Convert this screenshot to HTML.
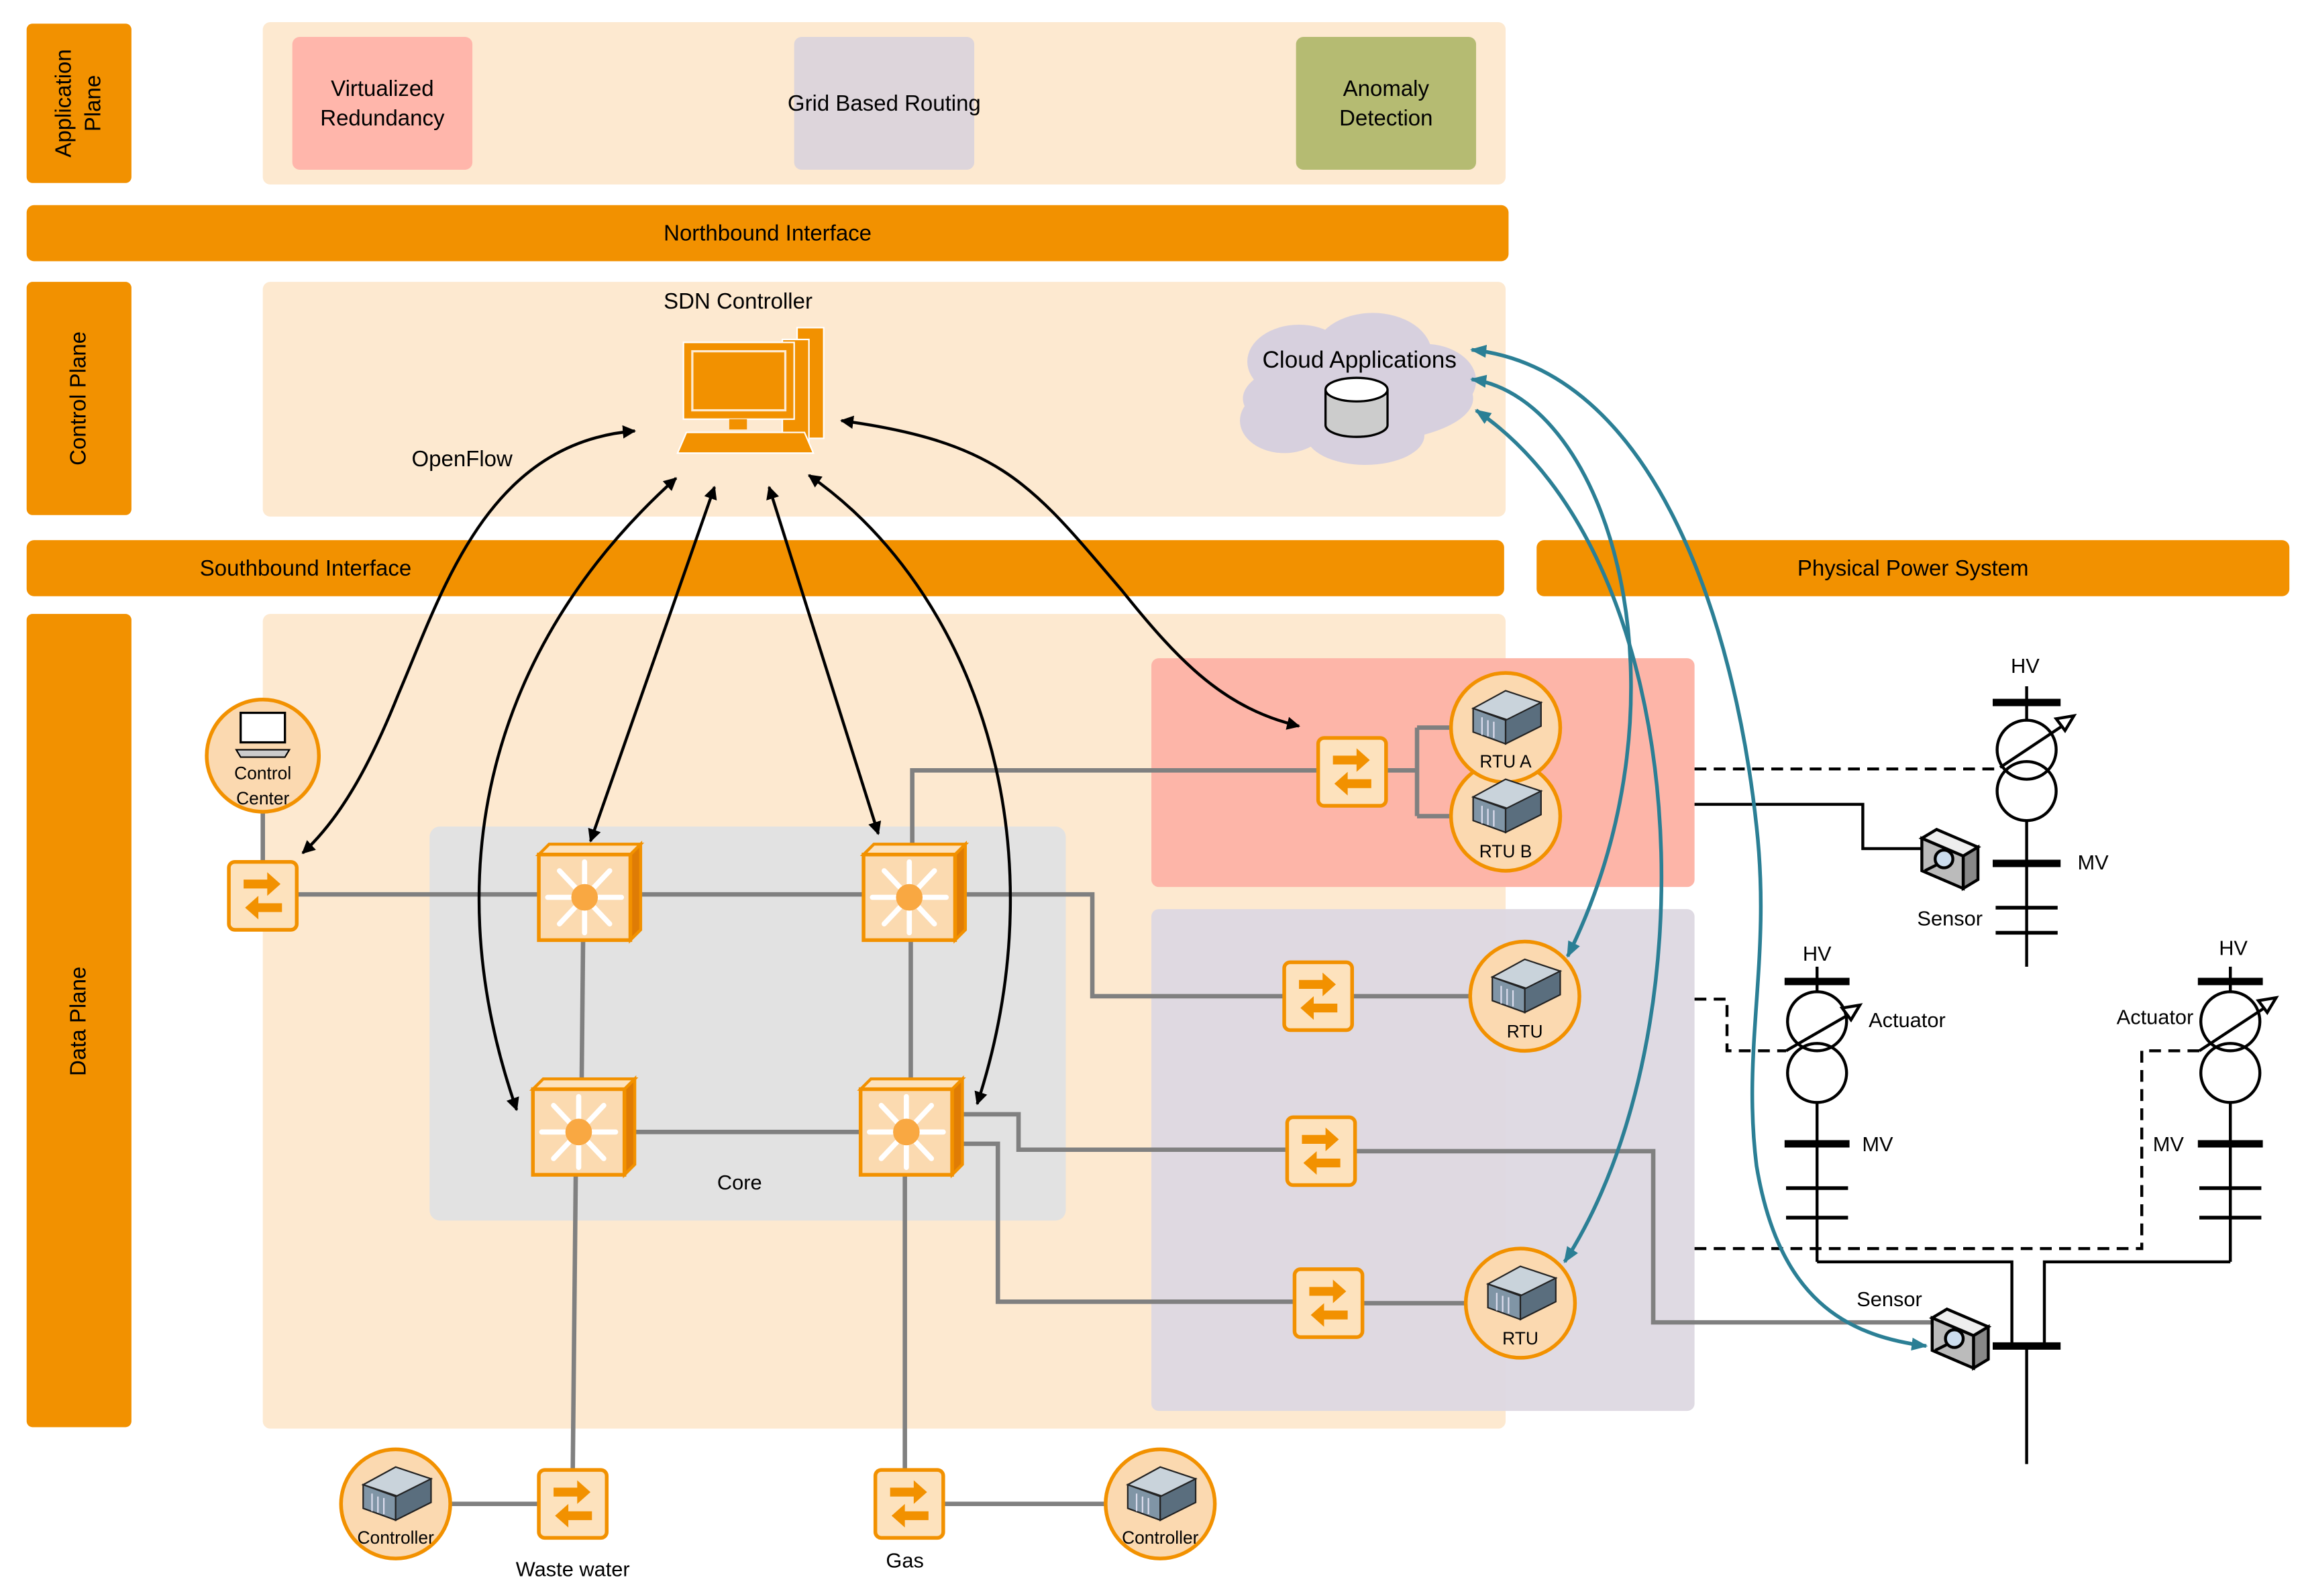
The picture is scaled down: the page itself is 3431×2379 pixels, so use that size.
<!DOCTYPE html>
<html><head><meta charset="utf-8"><style>
html,body{margin:0;padding:0;background:#fff}
svg{display:block}
text{font-family:"Liberation Sans",sans-serif;fill:#000}
</style></head><body>
<svg width="3431" height="2379" viewBox="0 0 1559.5 1081.4" xmlns="http://www.w3.org/2000/svg">
<defs>
<marker id="ab" viewBox="0 0 10 10" refX="9" refY="5" markerWidth="9" markerHeight="9" markerUnits="userSpaceOnUse" orient="auto-start-reverse"><path d="M0,0 L10,5 L0,10 z" fill="#000"/></marker>
<marker id="at" viewBox="0 0 10 10" refX="9" refY="5" markerWidth="11" markerHeight="11" markerUnits="userSpaceOnUse" orient="auto-start-reverse"><path d="M0,1 L10,5 L0,9 z" fill="#2b7f95"/></marker>
<g id="sw">
<rect x="-23" y="-23" width="46" height="46" rx="4" fill="#fde2bd" stroke="#f29100" stroke-width="2.5"/>
<path d="M-13,-11 h16 v-5 l9,8 l-9,8 v-5 h-16z" fill="#f29100"/>
<path d="M13,11 h-16 v5 l-9,-8 l9,-8 v5 h16z" fill="#f29100"/>
</g>
<g id="core">
<path d="M-32,-27 l7,-7 h62 l-7,7z" fill="#fde2bd" stroke="#f29100" stroke-width="2"/>
<path d="M30,-27 l7,-7 v58 l-7,7z" fill="#df7c05" stroke="#f29100" stroke-width="2"/>
<rect x="-32" y="-27" width="62" height="58" fill="#fbdab0" stroke="#f29100" stroke-width="2.5"/>
<g stroke="#fff" stroke-width="3.5" stroke-linecap="round">
<line x1="-1" y1="2" x2="-1" y2="-22"/><line x1="-1" y1="2" x2="-1" y2="26"/>
<line x1="-1" y1="2" x2="-26" y2="2"/><line x1="-1" y1="2" x2="24" y2="2"/>
<line x1="-1" y1="2" x2="-18" y2="-16"/><line x1="-1" y1="2" x2="16" y2="-16"/>
<line x1="-1" y1="2" x2="-18" y2="20"/><line x1="-1" y1="2" x2="16" y2="20"/>
</g>
<circle cx="-1" cy="2" r="9" fill="#f9a842"/>
</g>
<g id="srv">
<path d="M-20,-8 l22,-12 l24,8 l-22,12z" fill="#c9d3db" stroke="#222" stroke-width="1"/>
<path d="M-20,-8 l22,8 v16 l-22,-8z" fill="#8095a6" stroke="#222" stroke-width="1"/>
<path d="M2,0 l24,-12 v16 l-24,12z" fill="#5a6e7e" stroke="#222" stroke-width="1"/>
<g stroke="#dde" stroke-width="1"><line x1="-14" y1="-2" x2="-14" y2="10"/><line x1="-10" y1="0" x2="-10" y2="11"/><line x1="-6" y1="1" x2="-6" y2="12"/></g>
</g>
<g id="sensor">
<path d="M-18,-12 l10,-6 l28,12 l-10,6z" fill="#eee" stroke="#000" stroke-width="2"/>
<path d="M10,0 l10,-6 v22 l-10,6z" fill="#888" stroke="#000" stroke-width="2"/>
<path d="M-18,-12 l28,12 v22 l-28,-12z" fill="#bbb" stroke="#000" stroke-width="2"/>
<circle cx="-3" cy="2" r="6" fill="#cde" stroke="#000" stroke-width="2"/>
<line x1="-8" y1="6" x2="-16" y2="10" stroke="#000" stroke-width="2"/>
</g>
</defs>

<!-- planes -->
<rect x="18" y="16" width="71" height="108" rx="4" fill="#f29100"/>
<rect x="178" y="15" width="842" height="110" rx="5" fill="#fde9d0"/>
<rect x="198" y="25" width="122" height="90" rx="5" fill="#ffb6ab"/>
<rect x="538" y="25" width="122" height="90" rx="5" fill="#ddd5db"/>
<rect x="878" y="25" width="122" height="90" rx="5" fill="#b5bb72"/>
<text x="259" y="65" font-size="15" text-anchor="middle">Virtualized</text>
<text x="259" y="85" font-size="15" text-anchor="middle">Redundancy</text>
<text x="599" y="75" font-size="15" text-anchor="middle">Grid Based Routing</text>
<text x="939" y="65" font-size="15" text-anchor="middle">Anomaly</text>
<text x="939" y="85" font-size="15" text-anchor="middle">Detection</text>
<text transform="translate(48,70) rotate(-90)" font-size="15" text-anchor="middle">Application</text>
<text transform="translate(68,70) rotate(-90)" font-size="15" text-anchor="middle">Plane</text>

<rect x="18" y="139" width="1004" height="38" rx="5" fill="#f29100"/>
<text x="520" y="163" font-size="15" text-anchor="middle">Northbound Interface</text>

<rect x="18" y="191" width="71" height="158" rx="4" fill="#f29100"/>
<text transform="translate(58,270) rotate(-90)" font-size="15" text-anchor="middle">Control Plane</text>
<rect x="178" y="191" width="842" height="159" rx="5" fill="#fde9d0"/>

<rect x="18" y="366" width="1001" height="38" rx="5" fill="#f29100"/>
<text x="207" y="390" font-size="15" text-anchor="middle">Southbound Interface</text>
<rect x="1041" y="366" width="510" height="38" rx="5" fill="#f29100"/>
<text x="1296" y="390" font-size="15" text-anchor="middle">Physical Power System</text>

<rect x="18" y="416" width="71" height="551" rx="4" fill="#f29100"/>
<text transform="translate(58,692) rotate(-90)" font-size="15" text-anchor="middle">Data Plane</text>
<rect x="178" y="416" width="842" height="552" rx="5" fill="#fde9d0"/>
<rect x="291" y="560" width="431" height="267" rx="7" fill="#e2e2e2"/>
<text x="501" y="806" font-size="14" text-anchor="middle">Core</text>
<rect x="780" y="446" width="368" height="155" rx="5" fill="#fdb5a8"/>
<rect x="780" y="616" width="368" height="340" rx="5" fill="#ddd8e1" opacity="0.95"/>

<!-- SDN controller -->
<text x="500" y="209" font-size="15" text-anchor="middle">SDN Controller</text>
<rect x="540" y="222" width="18" height="75" fill="#f29100" stroke="#fff" stroke-width="1"/>
<rect x="530" y="230" width="18" height="70" fill="#f29100" stroke="#fff" stroke-width="1"/>
<rect x="463" y="232" width="75" height="52" fill="#f29100" stroke="#fff" stroke-width="1"/>
<rect x="469" y="238" width="63" height="40" fill="#f29100" stroke="#fde9d0" stroke-width="1.5"/>
<rect x="494" y="284" width="12" height="7" fill="#f29100"/>
<path d="M465,293 h80 l6,14 h-92z" fill="#f29100" stroke="#fff" stroke-width="1"/>
<text x="313" y="316" font-size="15" text-anchor="middle">OpenFlow</text>

<!-- cloud -->
<g fill="#d7d0de">
<ellipse cx="920" cy="270" rx="78" ry="30"/>
<ellipse cx="880" cy="245" rx="35" ry="25"/><ellipse cx="930" cy="240" rx="40" ry="28"/>
<ellipse cx="965" cy="258" rx="35" ry="25"/><ellipse cx="870" cy="285" rx="30" ry="22"/>
<ellipse cx="925" cy="295" rx="40" ry="20"/>
</g>
<text x="921" y="249" font-size="16" text-anchor="middle">Cloud Applications</text>
<path d="M898,264 v24 a21,8 0 0 0 42,0 v-24" fill="#ccc" stroke="#000" stroke-width="1.5"/>
<ellipse cx="919" cy="264" rx="21" ry="8" fill="#fff" stroke="#000" stroke-width="1.5"/>

<!-- gray links -->
<g stroke="#808080" stroke-width="3" fill="none">
<line x1="178" y1="550" x2="178" y2="585"/>
<line x1="200" y1="606" x2="590" y2="606"/>
<line x1="395" y1="636" x2="394" y2="735"/>
<line x1="617" y1="636" x2="617" y2="735"/>
<line x1="425" y1="767" x2="590" y2="767"/>
<path d="M618,575 V522 H895"/>
<path d="M940,522 H960 M960,493 V553 M960,493 H985 M960,553 H985"/>
<path d="M650,606 H740 V675 H870"/>
<line x1="916" y1="675" x2="996" y2="675"/>
<path d="M650,755 H690 V779 H873"/>
<path d="M918,780 H1120 V896 H1310"/>
<path d="M650,775 H676 V882 H878"/>
<line x1="922" y1="883" x2="994" y2="883"/>
<line x1="390" y1="797" x2="388" y2="996"/>
<line x1="306" y1="1019" x2="365" y2="1019"/>
<line x1="613" y1="797" x2="613" y2="996"/>
<line x1="639" y1="1019" x2="748" y2="1019"/>
</g>

<!-- switches -->
<use href="#sw" x="178" y="607"/>
<use href="#sw" x="916" y="523"/>
<use href="#sw" x="893" y="675"/>
<use href="#sw" x="895" y="780"/>
<use href="#sw" x="900" y="883"/>
<use href="#sw" x="388" y="1019"/>
<use href="#sw" x="616" y="1019"/>
<use href="#core" x="397" y="606"/>
<use href="#core" x="617" y="606"/>
<use href="#core" x="393" y="765"/>
<use href="#core" x="615" y="765"/>

<!-- circles -->
<g fill="#fbd9b0" stroke="#f29100" stroke-width="2.5">
<circle cx="178" cy="512" r="38"/>
<circle cx="1020" cy="553" r="37"/>
<circle cx="1020" cy="493" r="37"/>
<circle cx="1033" cy="675" r="37"/>
<circle cx="1030" cy="883" r="37"/>
<circle cx="268" cy="1019" r="37"/>
<circle cx="786" cy="1019" r="37"/>
</g>
<rect x="163" y="483" width="30" height="20" fill="#fff" stroke="#000" stroke-width="1.5"/>
<path d="M160,508 h36 l-3,5 h-30z" fill="#ccc" stroke="#000" stroke-width="1"/>
<text x="178" y="528" font-size="12" text-anchor="middle">Control</text>
<text x="178" y="545" font-size="12" text-anchor="middle">Center</text>
<use href="#srv" x="1018" y="548"/><text x="1020" y="581" font-size="12" text-anchor="middle">RTU B</text>
<use href="#srv" x="1018" y="488"/><text x="1020" y="520" font-size="12" text-anchor="middle">RTU A</text>
<use href="#srv" x="1031" y="670"/><text x="1033" y="703" font-size="12" text-anchor="middle">RTU</text>
<use href="#srv" x="1028" y="878"/><text x="1030" y="911" font-size="12" text-anchor="middle">RTU</text>
<use href="#srv" x="266" y="1014"/><text x="268" y="1046" font-size="12" text-anchor="middle">Controller</text>
<use href="#srv" x="784" y="1014"/><text x="786" y="1046" font-size="12" text-anchor="middle">Controller</text>
<text x="388" y="1068" font-size="14" text-anchor="middle">Waste water</text>
<text x="613" y="1062" font-size="14" text-anchor="middle">Gas</text>

<!-- black arrows -->
<g stroke="#000" stroke-width="2" fill="none" marker-start="url(#ab)" marker-end="url(#ab)">
<path d="M430,292 C330,300 300,400 270,470 C250,520 230,555 205,578"/>
<path d="M458,324 C340,430 290,580 350,752"/>
<path d="M484,330 L400,570"/>
<path d="M521,330 L595,565"/>
<path d="M548,322 C660,400 720,570 662,748"/>
<path d="M570,285 C680,300 700,330 760,400 C800,450 830,480 880,492"/>
</g>

<!-- power system -->
<g stroke="#000" stroke-width="2" fill="none">
<path d="M1148,521 H1355" stroke-dasharray="8,5"/>
<path d="M1148,545 H1262 V575 H1302"/>
<path d="M1148,677 H1170 V712 H1210" stroke-dasharray="8,5"/>
<path d="M1148,846 H1451 V712 H1490" stroke-dasharray="8,5"/>
<line x1="1373" y1="465" x2="1373" y2="488"/><line x1="1373" y1="556" x2="1373" y2="655"/>
<circle cx="1373" cy="508" r="20"/><circle cx="1373" cy="536" r="20"/>
<line x1="1231" y1="655" x2="1231" y2="672"/><line x1="1231" y1="747" x2="1231" y2="855"/>
<circle cx="1231" cy="692" r="20"/><circle cx="1231" cy="727" r="20"/>
<line x1="1511" y1="655" x2="1511" y2="672"/><line x1="1511" y1="747" x2="1511" y2="855"/>
<circle cx="1511" cy="692" r="20"/><circle cx="1511" cy="727" r="20"/>
<path d="M1231,855 H1363 V912 M1511,855 H1385 V912"/>
<line x1="1373" y1="912" x2="1373" y2="992"/>
<line x1="1355" y1="520" x2="1400" y2="490"/><path d="M1393,487 l12,-2 l-6,10z" fill="#fff"/>
<line x1="1210" y1="712" x2="1255" y2="686"/><path d="M1248,683 l12,-2 l-6,10z" fill="#fff"/>
<line x1="1490" y1="712" x2="1537" y2="681"/><path d="M1530,678 l12,-2 l-6,10z" fill="#fff"/>
<g stroke-width="2.5"><line x1="1352" y1="615" x2="1394" y2="615"/><line x1="1352" y1="632" x2="1394" y2="632"/>
<line x1="1210" y1="805" x2="1252" y2="805"/><line x1="1210" y1="825" x2="1252" y2="825"/>
<line x1="1490" y1="805" x2="1532" y2="805"/><line x1="1490" y1="825" x2="1532" y2="825"/></g>
<g stroke-width="5"><line x1="1350" y1="476" x2="1396" y2="476"/><line x1="1350" y1="585" x2="1396" y2="585"/>
<line x1="1209" y1="665" x2="1253" y2="665"/><line x1="1209" y1="775" x2="1253" y2="775"/>
<line x1="1489" y1="665" x2="1533" y2="665"/><line x1="1489" y1="775" x2="1533" y2="775"/>
<line x1="1350" y1="912" x2="1396" y2="912"/></g>
</g>
<use href="#sensor" x="1320" y="580"/>
<use href="#sensor" x="1327" y="905"/>
<g font-size="14">
<text x="1372" y="456" text-anchor="middle">HV</text>
<text x="1418" y="589" text-anchor="middle">MV</text>
<text x="1321" y="627" text-anchor="middle">Sensor</text>
<text x="1231" y="651" text-anchor="middle">HV</text>
<text x="1292" y="696" text-anchor="middle">Actuator</text>
<text x="1272" y="780" text-anchor="middle">MV</text>
<text x="1513" y="647" text-anchor="middle">HV</text>
<text x="1460" y="694" text-anchor="middle">Actuator</text>
<text x="1469" y="780" text-anchor="middle">MV</text>
<text x="1280" y="885" text-anchor="middle">Sensor</text>
</g>

<!-- teal arrows -->
<g stroke="#2b7f95" stroke-width="2.5" fill="none" marker-start="url(#at)" marker-end="url(#at)">
<path d="M997,237 C1120,250 1175,420 1190,560 C1200,650 1180,710 1190,790 C1205,880 1250,905 1305,912"/>
<path d="M997,257 C1090,270 1150,470 1062,648"/>
<path d="M1000,278 C1150,380 1160,700 1060,855"/>
</g>
</svg>
</body></html>
